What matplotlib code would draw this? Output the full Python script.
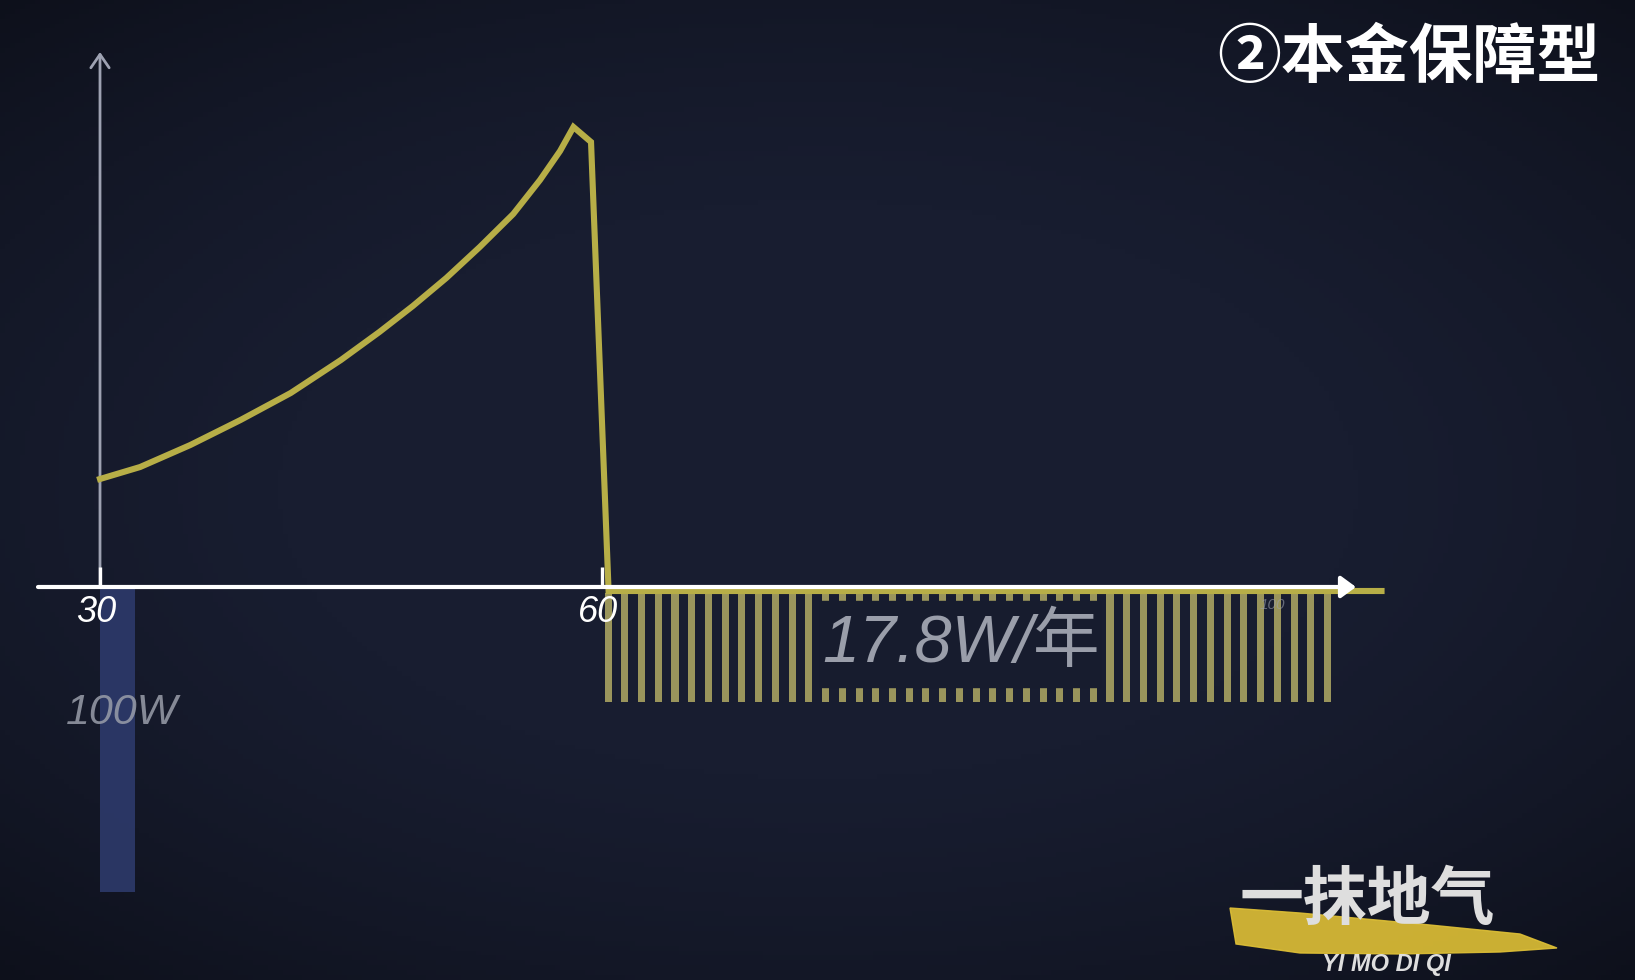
import numpy as np
import matplotlib
matplotlib.use("Agg")
import matplotlib.pyplot as plt
from matplotlib.patches import Rectangle, Polygon

# data (ages in years, values in chart units)
curve_age = [30.0, 32.4, 35.4, 38.4, 41.4, 44.4, 46.7, 48.7, 50.7, 52.7, 54.7, 56.3, 57.5, 58.3,
             59.35, 60.4, 106.6]
curve_val = [108, 120, 142, 167, 194, 227, 255, 281, 309, 340, 373, 407, 436, 460,
             445, -4, -4]

premium_age = 30
premium_depth = -305
premium_label = "100W"

payout_ages = list(range(60, 104))
payout_top = -6
payout_depth = -109
payout_label = "17.8W/年"

tick_ages = [30, 60]
tick_labels = ["30", "60"]
far_age = 100

title = "②本金保障型"
logo_cn = "一抹地气"
logo_en = "YI MO DI QI"

# colours
BG = "#171c2e"
CURVE = "#b7ae47"
BAR = "#9a955c"
BLUE = "#2d3a6b"
AXIS_Y = "#9ea2b2"
LABEL_GRAY = "#9a9eaa"

W, H = 1635, 980
PX_PER_YEAR = 16.73
X0_PX, Y0_PX = 100, 587


def to_data(px, py):
    # pixel position of the picture -> chart coordinates
    return 30 + (px - X0_PX) / PX_PER_YEAR, Y0_PX - py


LATIN = ["Liberation Sans", "Noto Sans CJK SC", "DejaVu Sans"]
CJK = ["Noto Sans CJK SC", "DejaVu Sans"]

fig = plt.figure(figsize=(W / 100, H / 100), dpi=100)
fig.patch.set_facecolor(BG)

# a. background with a soft vignette
bg_ax = fig.add_axes([0, 0, 1, 1], zorder=-10)
yy, xx = np.mgrid[-1:1:200j, -1:1:330j]
shade = 1 - 0.3 * np.clip((xx ** 2 * 0.8 + yy ** 2) - 0.35, 0, None)
base = np.array([0x18, 0x1d, 0x30]) / 255
img = base[None, None, :] * shade[:, :, None]
bg_ax.imshow(img, aspect="auto", extent=[0, 1, 0, 1])
bg_ax.axis("off")

# b. main axes mapped onto the whole picture
ax = fig.add_axes([0, 0, 1, 1])
ax.patch.set_alpha(0)
x_lo, y_hi = to_data(0, 0)
x_hi, y_lo = to_data(W, H)
ax.set_xlim(x_lo, x_hi)
ax.set_ylim(y_lo, y_hi)
ax.axis("off")

# c. premium bar (blue)
ax.bar(premium_age, premium_depth, width=2.1, align="edge", color=BLUE, alpha=0.9, zorder=2)
tx, ty = to_data(122, 713)
ax.text(tx, ty, premium_label, color=LABEL_GRAY, fontsize=31, fontstyle="italic",
        family=LATIN, ha="center", va="center", alpha=0.85, zorder=5)

# d. yearly payout bars
ax.bar(np.array(payout_ages) + 0.37, payout_depth, bottom=payout_top, width=0.42,
       color=BAR, zorder=2)

# label box covering the middle of the bars
bx0, by0 = to_data(820, 687)
bx1, by1 = to_data(1100, 601)
ax.add_patch(Rectangle((bx0, by0), bx1 - bx0, by1 - by0, color=BG, zorder=3))
tx, ty = to_data(961, 645)
ax.text(tx, ty, payout_label, color=LABEL_GRAY, fontsize=48, fontstyle="italic",
        family=LATIN, ha="center", va="center", zorder=5)

# e. account value curve
ax.plot(curve_age, curve_val, color=CURVE, lw=4.4, solid_joinstyle="miter", zorder=4)

# f. axes lines
ax_start, _ = to_data(38, 0)
ax_end, _ = to_data(1356, 0)
ax.annotate("", xy=(ax_end, 0), xytext=(ax_start, 0),
            arrowprops=dict(arrowstyle="-|>,head_length=0.75,head_width=0.55", lw=3.0,
                            color="white", shrinkA=0, shrinkB=0, mutation_scale=12),
            zorder=6)
_, y_top = to_data(0, 52)
ax.annotate("", xy=(30, y_top), xytext=(30, 0),
            arrowprops=dict(arrowstyle="->,head_length=0.8,head_width=0.55", lw=2.0,
                            color=AXIS_Y, shrinkA=0, shrinkB=0, mutation_scale=12),
            zorder=3)
for a in tick_ages:
    ax.plot([a, a], [0, 20], color="white", lw=2.4, solid_capstyle="butt", zorder=6)

# g. tick labels
for a, lab in zip(tick_ages, tick_labels):
    ax.text(a - 0.25, -26, lab, color="white", fontsize=26, fontstyle="italic",
            family=LATIN, ha="center", va="center", zorder=6)
ax.text(far_age + 0.1, -18, str(far_age), color=LABEL_GRAY, fontsize=11, fontstyle="italic",
        family=LATIN, ha="center", va="center", alpha=0.6, zorder=6)

# h. title
fig.text(1600 / W, 1 - 58 / H, title, color="white", fontsize=46, fontweight="bold",
         family=CJK, ha="right", va="center")

# i. logo with brush stroke
brush = [(1230, 908), (1300, 913), (1420, 924), (1520, 934), (1557, 948),
         (1500, 952), (1400, 954), (1300, 953), (1236, 944)]
fig.patches.append(Polygon([(x / W, 1 - y / H) for x, y in brush], closed=True,
                           color="#e0c136", alpha=0.9, transform=fig.transFigure, figure=fig))
fig.text(1367 / W, 1 - 900 / H, logo_cn, color="#dedede", fontsize=46, fontweight="bold",
         family=CJK, ha="center", va="center")
fig.text(1386 / W, 1 - 964 / H, logo_en, color="#dedede", fontsize=17, fontweight="bold",
         fontstyle="italic", family=LATIN, ha="center", va="center")

fig.savefig("out.png", dpi=100, facecolor=BG)
